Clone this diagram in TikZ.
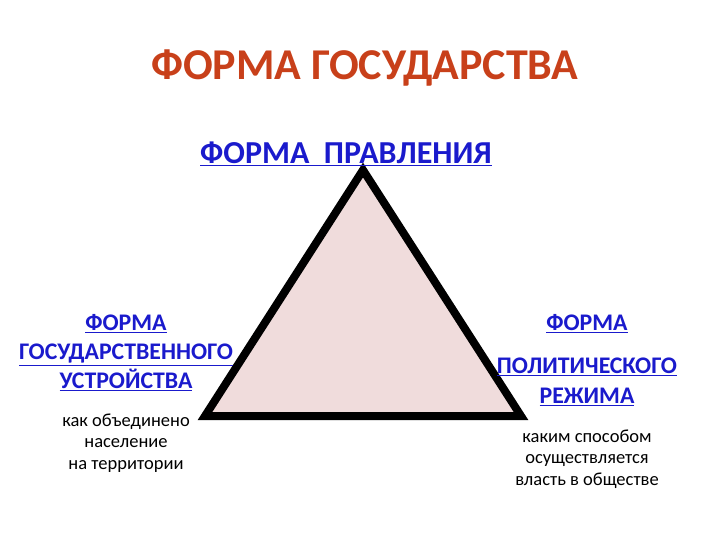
\documentclass[tikz,border=0pt]{standalone}
\usepackage{fontspec}
\setmainfont{Carlito}
\definecolor{titlered}{HTML}{C8401A}
\definecolor{linkblue}{HTML}{1A1ACC}
\definecolor{trifill}{HTML}{F0DCDC}
\newcommand{\ul}[1]{\underline{#1}}
\begin{document}
\begin{tikzpicture}[x=1pt,y=-1pt,
  title/.style={font=\fontsize{44}{50}\selectfont\bfseries, text=titlered, inner sep=0},
  big/.style={font=\fontsize{32}{36}\selectfont\bfseries, text=linkblue, inner sep=0},
  lab/.style={font=\fontsize{23.8}{29}\selectfont\bfseries, text=linkblue, align=center, inner sep=0},
  small/.style={font=\fontsize{18.5}{21.5}\selectfont, text=black, align=center, inner sep=0}]
\useasboundingbox (0,0) rectangle (720,540);
\node[title] (t) at (365,68) {ФОРМА ГОСУДАРСТВА};
\coordinate (A) at (363,170);
\coordinate (B) at (205,416);
\coordinate (C) at (521,416);
\draw[line width=8pt, fill=trifill, line join=miter] (A) -- (B) -- (C) -- cycle;
\node[big] (p) at (346,154) {\ul{ФОРМА\ \ ПРАВЛЕНИЯ}};
\node[lab] (l) at (126,353) {\ul{ФОРМА}\\\ul{ГОСУДАРСТВЕННОГО}\\\ul{УСТРОЙСТВА}};
\node[lab] (r1) at (587,324) {\ul{ФОРМА}};
\node[lab, font=\fontsize{23.8}{30}\selectfont\bfseries] (r2) at (587,382) {\ul{ПОЛИТИЧЕСКОГО}\\\ul{РЕЖИМА}};
\node[small] (ls) at (126,443) {как объединено\\население\\на территории};
\node[small] (rs) at (587,459) {каким способом\\осуществляется\\власть в обществе};
\end{tikzpicture}
\end{document}
